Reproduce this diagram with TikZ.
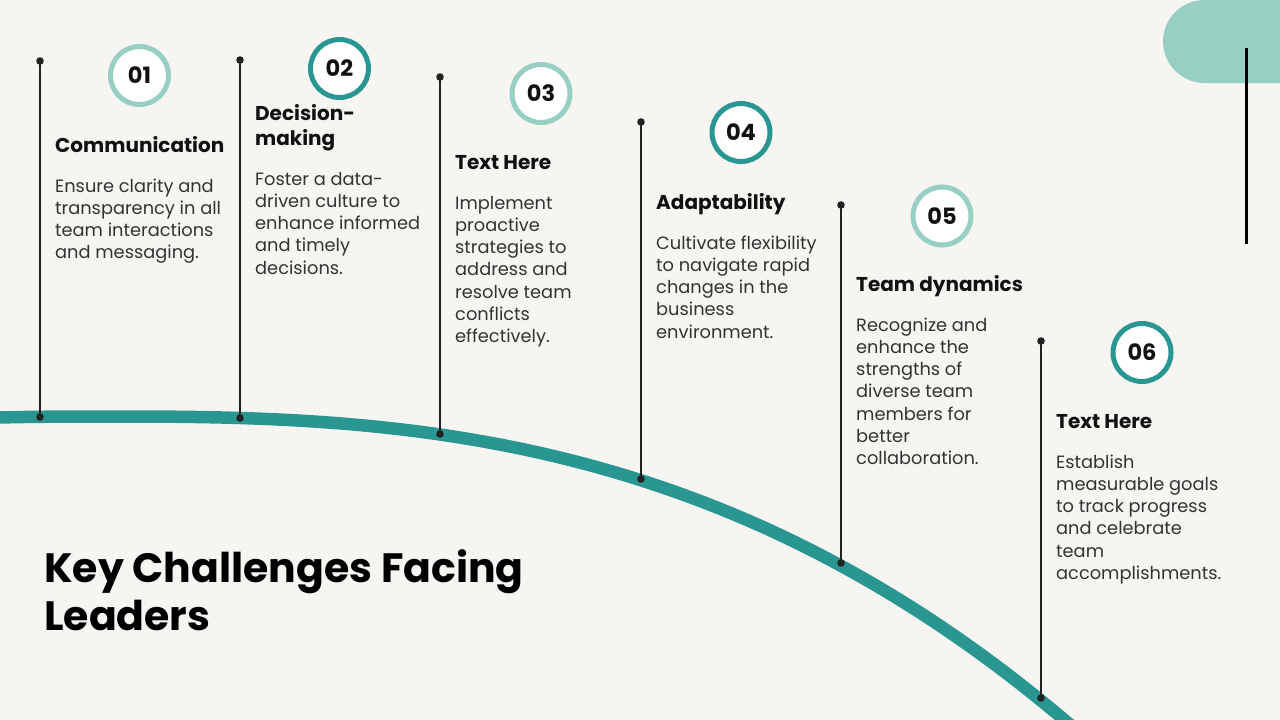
\documentclass[tikz,border=0pt]{standalone}
\usepackage{fontspec}
\setmainfont{Poppins}
\definecolor{bgc}{HTML}{F6F5F1}
\definecolor{tealdark}{HTML}{2A9692}
\definecolor{teallight}{HTML}{98CFC3}
\definecolor{inkc}{HTML}{111111}
\definecolor{bodyc}{HTML}{333333}
\definecolor{stemc}{HTML}{222222}
\tikzset{
  ttl/.style={anchor=base west, inner sep=0pt, text=inkc, font=\bfseries\fontsize{20}{25}\selectfont},
  bodytxt/.style={anchor=base west, inner sep=0pt, text=bodyc, font=\fontsize{17.8}{22.3}\selectfont},
  numc/.style={circle, line width=5pt, fill=white, minimum size=58pt, inner sep=0pt, text=inkc, font=\bfseries\fontsize{22.5}{24}\selectfont},
  lightring/.style={numc, draw=teallight},
  darkring/.style={numc, draw=tealdark},
  stem/.style={draw=stemc, line width=1.8pt},
  stemdot/.style={fill=stemc},
}
\newcommand{\lines}[1]{\begin{tabular}[t]{@{}l@{}}#1\end{tabular}}
\begin{document}
\begin{tikzpicture}[x=1pt,y=-1pt]
\useasboundingbox (0,0) rectangle (1280,720);
\fill[bgc] (0,0) rectangle (1280,720);
\begin{scope}
\clip (0,0) rectangle (1280,720);
\fill[teallight, rounded corners=41.5pt] (1163,0) rectangle (1360,83);
\draw[tealdark, line width=12.5pt] plot[domain=-20:1100, samples=160]
  (\x, {416.5+18*pow((abs(\x-110)+0.01)/330, 2.66)});
\end{scope}
\draw[black, line width=3pt] (1246,48) -- (1246,244);

% stems
\coordinate (t1) at (40,61);   \coordinate (b1) at (40,417);
\coordinate (t2) at (240,60);  \coordinate (b2) at (240,418);
\coordinate (t3) at (440,77);  \coordinate (b3) at (440,434);
\coordinate (t4) at (641,122); \coordinate (b4) at (641,479);
\coordinate (t5) at (841,205); \coordinate (b5) at (841,563);
\coordinate (t6) at (1041,341);\coordinate (b6) at (1041,698);
\foreach \i in {1,...,6}{
  \draw[stem] (t\i) -- (b\i);
  \fill[stemdot] (t\i) circle (3.8pt);
  \fill[stemdot] (b\i) circle (3.8pt);
}

% number circles
\node[lightring] (n1) at (139.5,75.5) {01};
\node[darkring]  (n2) at (339.5,68.5) {02};
\node[lightring] (n3) at (541,93.5) {03};
\node[darkring]  (n4) at (741,132.5) {04};
\node[lightring] (n5) at (942,216) {05};
\node[darkring]  (n6) at (1142,352.5) {06};

% titles
\node[ttl] (h1) at (55,152.5) {Communication};
\node[ttl] (h2) at (255,120.5) {\lines{Decision-\\making}};
\node[ttl] (h3) at (455,169.5) {Text Here};
\node[ttl] (h4) at (656,209.5) {Adaptability};
\node[ttl] (h5) at (856,291.5) {Team dynamics};
\node[ttl] (h6) at (1056,428.5) {Text Here};

% body texts
\node[bodytxt] (d1) at (55,192) {\lines{Ensure clarity and\\transparency in all\\team interactions\\and messaging.}};
\node[bodytxt] (d2) at (255,185) {\lines{Foster a data-\\driven culture to\\enhance informed\\and timely\\decisions.}};
\node[bodytxt] (d3) at (455,209) {\lines{Implement\\proactive\\strategies to\\address and\\resolve team\\conflicts\\effectively.}};
\node[bodytxt] (d4) at (656,249) {\lines{Cultivate flexibility\\to navigate rapid\\changes in the\\business\\environment.}};
\node[bodytxt] (d5) at (856,331) {\lines{Recognize and\\enhance the\\strengths of\\diverse team\\members for\\better\\collaboration.}};
\node[bodytxt] (d6) at (1056,468) {\lines{Establish\\measurable goals\\to track progress\\and celebrate\\team\\accomplishments.}};

% main title
\node[anchor=base west, inner sep=0pt, text=black, font=\bfseries\fontsize{41}{48}\selectfont] (title) at (44,582) {\lines{Key Challenges Facing\\Leaders}};
\end{tikzpicture}
\end{document}
